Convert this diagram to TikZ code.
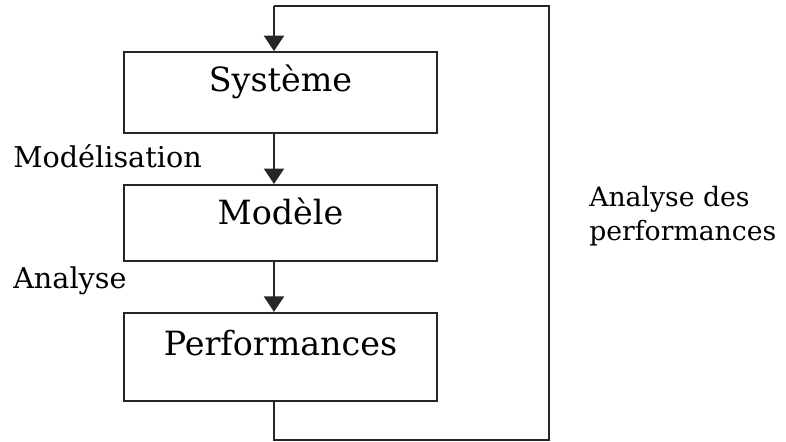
\documentclass[tikz,border=0pt]{standalone}
\usepackage{fontspec}
\setmainfont{DejaVu Serif}
\usetikzlibrary{positioning}
\usetikzlibrary{arrows.meta}

\begin{document}
\begin{tikzpicture}[x=0.75pt, y=-0.75pt, node distance=37.5pt,
    box/.style={draw=black!85, line width=1.4pt, rectangle, minimum width=234.75pt, inner ysep=0pt, font=\fontsize{25}{30}\selectfont},
    arr/.style={-{Triangle[length=11.5pt,width=15pt]}, line width=1.4pt, draw=black!85},
    side/.style={inner sep=0pt, font=\fontsize{21.5}{26}\selectfont}]

    \useasboundingbox (0,0) rectangle (786,442);

    \node(sys)[box, text height=30pt, text depth=30.75pt] at (280.5,92.5) {Système};
    \node(mod)[box, text height=30pt, text depth=27pt, below=of sys]{Modèle};
    \node(perf)[box, text height=32.25pt, text depth=33.75pt, below=of mod]{Performances};

    \coordinate(top) at (274,6);
    \coordinate(topR) at (549,6);
    \coordinate(bot) at (274,440);
    \coordinate(botR) at (549,440);

    \draw[arr] (top) -- (top |- sys.north);
    \draw[arr] (sys.south -| top) -- (mod.north -| top);
    \draw[arr] (mod.south -| top) -- (perf.north -| top);
    \draw[line width=1.4pt, draw=black!85] (perf.south -| top) -- (bot) -- (botR) -- (topR) -- (top);

    \node(modlab)[side, anchor=base west] at (13,168) {Modélisation};
    \node(analab)[side, anchor=base west] at (13,289) {Analyse};
    \node(perflab)[side, font=\fontsize{20}{26}\selectfont, anchor=west, align=left] at (589,216) {Analyse des\\performances};

\end{tikzpicture}
\end{document}
